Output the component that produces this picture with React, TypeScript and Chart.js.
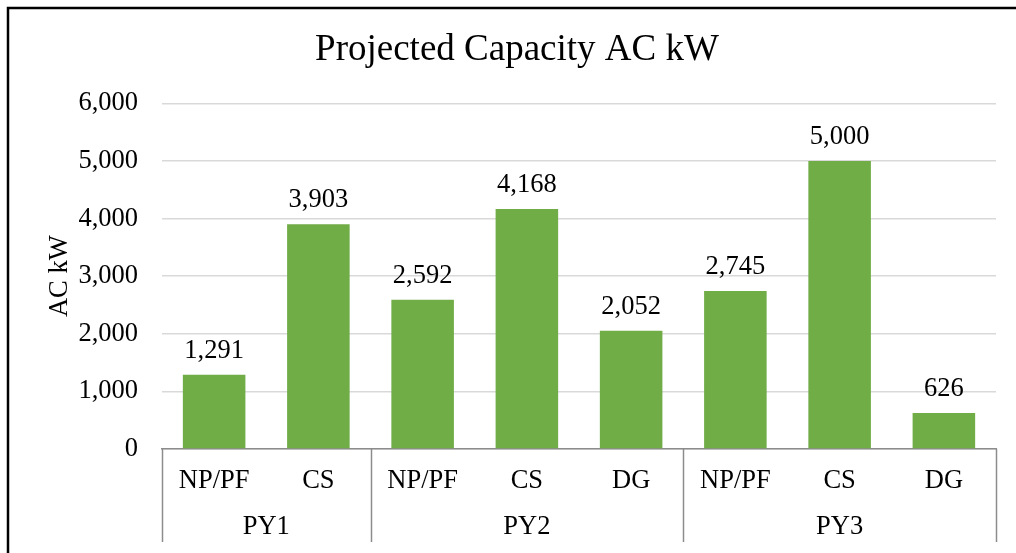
import React, { useEffect, useRef } from "react";
import { Chart, registerables } from "chart.js";

Chart.register(...registerables);

const categories = ["NP/PF", "CS", "NP/PF", "CS", "DG", "NP/PF", "CS", "DG"];
const capacityValues = [1291, 3903, 2592, 4168, 2052, 2745, 5000, 626];
const groupLabels = ["PY1", "PY2", "PY3"];
const groupSpans = [2, 3, 3];
const yMin = 0;
const yMax = 6000;
const yStep = 1000;

const FONT = "'Liberation Serif', 'Times New Roman', serif";
const TEXT_SIZE = 26.5;
const fmt = (v: number) => v.toLocaleString("en-US");

const framePlugin = {
  id: "frame",
  beforeDraw(chart: any) {
    const ctx = chart.ctx;
    ctx.save();
    ctx.fillStyle = "#ffffff";
    ctx.fillRect(0, 0, chart.width, chart.height);
    ctx.strokeStyle = "#000000";
    ctx.lineWidth = 2.5;
    ctx.strokeRect(8, 8, chart.width + 20, chart.height + 20);
    ctx.restore();
  },
};

const labelsPlugin = {
  id: "extras",
  afterDraw(chart: any) {
    const ctx = chart.ctx;
    const meta = chart.getDatasetMeta(0);
    ctx.save();
    ctx.font = `${TEXT_SIZE}px ${FONT}`;
    ctx.fillStyle = "#000000";
    ctx.textAlign = "center";
    ctx.textBaseline = "middle";
    meta.data.forEach((bar: any, i: number) => {
      ctx.fillText(fmt(capacityValues[i]), bar.x, bar.y - 24);
    });
    const xScale = chart.scales.x;
    const area = chart.chartArea;
    const n = categories.length;
    const cw = (area.right - area.left) / n;
    ctx.strokeStyle = "#8c8c8c";
    ctx.lineWidth = 1.5;
    let idx = 0;
    const bounds = [0];
    groupSpans.forEach((s) => {
      idx += s;
      bounds.push(idx);
    });
    bounds.forEach((b) => {
      const x = Math.round(xScale.left + b * cw) + 0.5;
      ctx.beginPath();
      ctx.moveTo(x, area.bottom);
      ctx.lineTo(x, 542);
      ctx.stroke();
    });
    groupLabels.forEach((g, i) => {
      const x0 = xScale.left + bounds[i] * cw;
      const x1 = xScale.left + bounds[i + 1] * cw;
      ctx.fillText(g, (x0 + x1) / 2, 527);
    });
    ctx.restore();
  },
};

export default function App() {
  const ref = useRef<HTMLCanvasElement | null>(null);
  useEffect(() => {
    if (!ref.current) return;
    const chart = new Chart(ref.current, {
      type: "bar",
      data: {
        labels: categories,
        datasets: [
          {
            data: capacityValues,
            backgroundColor: "#70AD47",
            barPercentage: 0.6,
            categoryPercentage: 1,
          },
        ],
      },
      options: {
        animation: false,
        responsive: false,
        layout: { padding: { left: 38, right: 20, top: 0, bottom: 0 } },
        plugins: {
          legend: { display: false },
          tooltip: { enabled: false },
          title: {
            display: true,
            text: "Projected Capacity AC kW",
            color: "#000000",
            font: { family: FONT, size: 37, weight: "normal" },
            padding: { top: 28, bottom: 31 },
          },
        },
        scales: {
          x: {
            grid: { display: false, drawTicks: false },
            border: { display: true, color: "#8c8c8c", width: 1.5 },
            ticks: {
              color: "#000000",
              font: { family: FONT, size: TEXT_SIZE },
              padding: 16,
              maxRotation: 0,
              autoSkip: false,
            },
            afterFit(scale: any) {
              scale.height = 104;
            },
          },
          y: {
            min: yMin,
            max: yMax,
            grid: { color: "#d9d9d9", lineWidth: 1.5, drawTicks: false },
            border: { display: false },
            ticks: {
              stepSize: yStep,
              color: "#000000",
              font: { family: FONT, size: TEXT_SIZE },
              padding: 24,
              callback: (v: any) => fmt(Number(v)),
            },
            title: {
              display: true,
              text: "AC kW",
              color: "#000000",
              font: { family: FONT, size: TEXT_SIZE },
              padding: { top: 6, bottom: 0 },
            },
            afterFit(scale: any) {
              scale.width = 124;
            },
          },
        },
      },
      plugins: [framePlugin, labelsPlugin],
    });
    return () => chart.destroy();
  }, []);
  return (
    <div style={{ position: "fixed", left: 0, top: 0, width: 1016, height: 553 }}>
      <canvas ref={ref} width={1016} height={553} style={{ display: "block" }} />
    </div>
  );
}
